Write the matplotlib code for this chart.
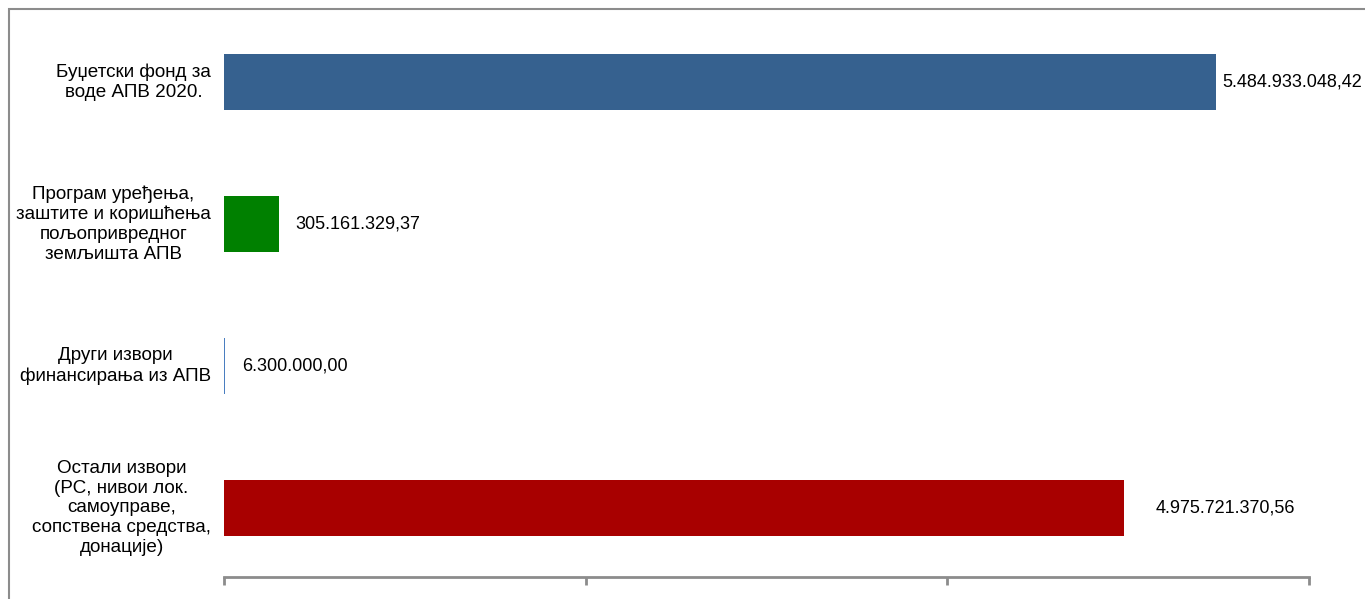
import matplotlib
matplotlib.use("Agg")
import matplotlib.pyplot as plt
from matplotlib.patches import Rectangle
from matplotlib.transforms import blended_transform_factory, offset_copy

plt.rcParams["font.family"] = ["Liberation Sans", "DejaVu Sans"]

# ── data ───────────────────────────────────────────────────────────────────────
categories = [
    "Буџетски фонд за\nводе АПВ 2020.",
    "Програм уређења,\nзаштите и коришћења\nпољопривредног\nземљишта АПВ",
    "Други извори\nфинансирања из АПВ",
    "Остали извори\n(РС, нивои лок.\nсамоуправе,\nсопствена средства,\nдонације)",
]
values = [5484933048.42, 305161329.37, 6300000.00, 4975721370.56]
value_labels = ["5.484.933.048,42", "305.161.329,37", "6.300.000,00", "4.975.721.370,56"]
colors = ["#36618F", "#008000", "#4A7EC0", "#A80000"]
label_gap = [6, 16, 17, 32]   # px gap between bar end and value text

# ── figure ─────────────────────────────────────────────────────────────────────
fig = plt.figure(figsize=(13.65, 5.99), dpi=100)
ax = fig.add_axes([224 / 1365, 22 / 599, (1309 - 224) / 1365, (577 - 9) / 599])

# outer chart frame (cropped on right/bottom)
fig.patches.append(Rectangle((9 / 1365, -0.1), 1.2, 1.1 - 9 / 599,
                             transform=fig.transFigure, fill=False,
                             edgecolor="#8c8c8c", lw=1.5))

y = list(range(len(categories)))
ax.barh(y, values, height=0.394, color=colors, edgecolor="none")
ax.set_ylim(3.5 - 0.014, -0.5 - 0.014)
ax.set_xlim(0, 6e9)

for yi, v, lab, g in zip(y, values, value_labels, label_gap):
    tr = offset_copy(ax.transData, fig=fig, x=g * 0.72, y=0, units="points")
    ax.text(v, yi, lab, transform=tr, va="center", ha="left", fontsize=13.0, color="black")

# category labels: block right-aligned near the axis, lines centred within it
tb = blended_transform_factory(fig.transFigure, ax.transData)
for yi, cat in zip(y, categories):
    ax.text(211 / 1365, yi, cat, transform=tb, ha="right", va="center",
            multialignment="center", fontsize=13.6, linespacing=1.2, color="black")

for s in ("top", "right", "left"):
    ax.spines[s].set_visible(False)
ax.spines["bottom"].set_color("#8c8c8c")
ax.spines["bottom"].set_linewidth(2)
ax.set_yticks([])
ax.set_xticks([0, 2e9, 4e9, 6e9])
ax.set_xticklabels([])
ax.tick_params(axis="x", direction="out", length=6, width=2, color="#8c8c8c")

fig.savefig("out.png", dpi=100)
